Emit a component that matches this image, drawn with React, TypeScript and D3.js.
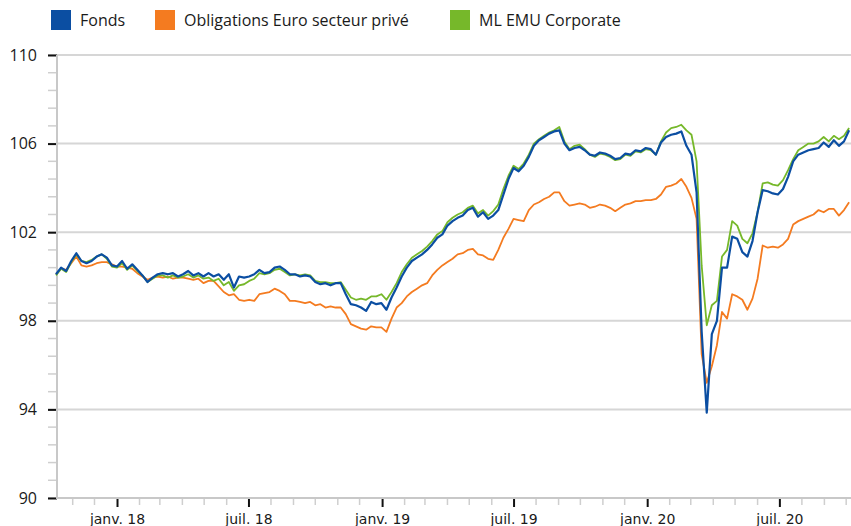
import React, { useEffect, useRef } from "react";
import * as d3 from "d3";

// weekly closing values, first week = 9 Oct 2017
const startDate = new Date(2017, 9, 9);

const fonds = [
  100.1, 100.4, 100.25, 100.7, 101.05, 100.7, 100.6, 100.7, 100.9, 101.0,
  100.85, 100.5, 100.45, 100.7, 100.35, 100.55, 100.3, 100.05, 99.75, 99.95,
  100.1, 100.15, 100.1, 100.15, 100.0, 100.1, 100.25, 100.05, 100.15, 100.0,
  100.15, 100.0, 100.1, 99.85, 100.1, 99.5, 100.0, 99.95, 100.0, 100.1,
  100.3, 100.15, 100.2, 100.4, 100.45, 100.3, 100.1, 100.1, 100.0, 100.05,
  100.0, 99.75, 99.65, 99.7, 99.6, 99.7, 99.7, 99.2, 98.75, 98.7,
  98.6, 98.45, 98.85, 98.75, 98.8, 98.5, 99.05, 99.5, 100.0, 100.4,
  100.7, 100.85, 101.0, 101.2, 101.45, 101.75, 101.9, 102.3, 102.5, 102.65,
  102.75, 103.0, 103.1, 102.7, 102.9, 102.6, 102.75, 103.0, 103.7, 104.4,
  104.9, 104.75, 105.0, 105.4, 105.9, 106.15, 106.3, 106.45, 106.55, 106.6,
  106.0, 105.7, 105.8, 105.85, 105.7, 105.5, 105.45, 105.6, 105.55, 105.45,
  105.3, 105.35, 105.55, 105.5, 105.7, 105.65, 105.8, 105.75, 105.5, 106.05,
  106.3, 106.4, 106.45, 106.55, 105.9, 105.5, 103.8, 97.5, 93.85, 97.4,
  98.0, 100.4, 100.4, 101.8, 101.7, 101.1, 100.9, 101.6, 102.9, 103.9,
  103.85, 103.75, 103.7, 103.95, 104.5, 105.2, 105.5, 105.6, 105.7, 105.75,
  105.8, 106.05, 105.85, 106.15, 105.9, 106.1, 106.6,
];

const obligations = [
  100.1, 100.35, 100.3, 100.6, 100.9, 100.5, 100.45, 100.5, 100.6, 100.65,
  100.65, 100.55, 100.45, 100.45, 100.4, 100.35, 100.15, 100.0, 99.85, 99.95,
  100.0, 99.95, 100.0, 99.9, 99.95, 99.95, 99.9, 99.85, 99.9, 99.7,
  99.8, 99.8, 99.55, 99.3, 99.15, 99.2, 98.95, 98.9, 98.95, 98.9,
  99.2, 99.25, 99.3, 99.45, 99.35, 99.2, 98.9, 98.9, 98.85, 98.8,
  98.85, 98.7, 98.75, 98.6, 98.65, 98.6, 98.6, 98.3, 97.85, 97.75,
  97.65, 97.6, 97.75, 97.7, 97.7, 97.5, 98.1, 98.6, 98.8, 99.1,
  99.3, 99.45, 99.6, 99.7, 100.05, 100.3, 100.5, 100.65, 100.8, 101.0,
  101.05, 101.2, 101.25, 101.0, 100.95, 100.8, 100.75, 101.2, 101.75, 102.15,
  102.6, 102.55, 102.5, 103.0, 103.25, 103.35, 103.5, 103.6, 103.8, 103.8,
  103.4, 103.2, 103.25, 103.3, 103.25, 103.1, 103.15, 103.25, 103.2, 103.1,
  102.95, 103.1, 103.25, 103.3, 103.4, 103.4, 103.45, 103.45, 103.5, 103.7,
  104.05, 104.1, 104.2, 104.4, 104.05, 103.55, 102.6, 96.5, 95.2, 95.95,
  96.9, 98.4, 98.1, 99.2, 99.1, 98.95, 98.5, 99.0, 99.9, 101.4,
  101.3, 101.35, 101.3, 101.45, 101.7, 102.35, 102.5, 102.6, 102.7, 102.8,
  103.0, 102.9, 103.05, 103.05, 102.75, 103.0, 103.35,
];

const mlEmu = [
  100.05, 100.35, 100.2, 100.65, 101.0, 100.7, 100.65, 100.75, 100.9, 101.0,
  100.8, 100.45, 100.4, 100.6, 100.3, 100.5, 100.25, 100.05, 99.75, 99.9,
  100.05, 100.05, 99.95, 100.05, 99.95, 100.0, 100.1, 99.95, 100.05, 99.9,
  99.95, 99.8, 99.9, 99.6, 99.75, 99.35, 99.6, 99.65, 99.8, 99.9,
  100.15, 100.1, 100.15, 100.3, 100.35, 100.2, 100.05, 100.1, 100.05, 100.1,
  100.05, 99.8, 99.75, 99.75, 99.7, 99.7, 99.75, 99.4, 99.05, 98.95,
  99.0, 98.95, 99.1, 99.1, 99.2, 98.95, 99.3, 99.7, 100.2, 100.55,
  100.85, 101.0, 101.15, 101.35, 101.6, 101.9, 102.05, 102.45, 102.65, 102.8,
  102.9, 103.1, 103.2, 102.85, 103.0, 102.75, 102.95, 103.25, 103.95, 104.55,
  105.0, 104.85, 105.1, 105.5, 106.0, 106.2, 106.35, 106.5, 106.6, 106.75,
  106.1, 105.75, 105.9, 105.95, 105.75, 105.5, 105.4, 105.55, 105.5, 105.4,
  105.25, 105.3, 105.5, 105.45, 105.65, 105.6, 105.75, 105.7, 105.5, 106.1,
  106.5, 106.7, 106.75, 106.85, 106.6, 106.4, 105.2, 100.5, 97.8, 98.7,
  98.9, 100.9, 101.2, 102.5, 102.3, 101.7, 101.5, 101.95, 102.9, 104.2,
  104.25, 104.15, 104.1, 104.35, 104.8, 105.3, 105.7, 105.85, 106.0, 106.0,
  106.1, 106.3, 106.1, 106.35, 106.2, 106.35, 106.7,
];

const seriesNames = ["Fonds", "Obligations Euro secteur privé", "ML EMU Corporate"];
const seriesColors = ["#0b4ea2", "#f47b20", "#76b82a"];
const yTickValues = [90, 94, 98, 102, 106, 110];
const monthNames = ["janv.", "févr.", "mars", "avr.", "mai", "juin", "juil.", "août", "sept.", "oct.", "nov.", "déc."];

export default function App() {
  const svgRef = useRef<SVGSVGElement>(null);
  const width = 851;
  const height = 526;

  useEffect(() => {
    const svg = d3.select(svgRef.current);
    svg.selectAll("*").remove();

    const left = 57;
    const right = 851;
    const top = 55;
    const bottom = 498;

    const dates = fonds.map((_, i) => d3.timeDay.offset(startDate, i * 7));

    const x = d3
      .scaleTime()
      .domain([new Date(2017, 9, 9), new Date(2020, 9, 9)])
      .range([56, 852]);
    const y = d3.scaleLinear().domain([90, 110]).range([bottom, top]);

    // grid
    svg
      .append("g")
      .selectAll("line")
      .data(yTickValues.filter((v) => v > 90))
      .join("line")
      .attr("x1", left)
      .attr("x2", right)
      .attr("y1", (d) => y(d))
      .attr("y2", (d) => y(d))
      .attr("stroke", "#d6d6d6")
      .attr("stroke-width", 2);

    // minor y ticks
    const minorY = d3.range(0, 26).map((i) => 90 + i * 0.8);
    svg
      .append("g")
      .selectAll("line")
      .data(minorY)
      .join("line")
      .attr("x1", 48)
      .attr("x2", left)
      .attr("y1", (d) => y(d))
      .attr("y2", (d) => y(d))
      .attr("stroke", "#cfcfcf")
      .attr("stroke-width", 1.5);

    // minor x ticks (monthly)
    const months = d3.timeMonth.range(new Date(2017, 10, 1), new Date(2020, 9, 9));
    svg
      .append("g")
      .selectAll("line")
      .data(months.filter((m) => m.getMonth() % 6 !== 0))
      .join("line")
      .attr("x1", (d) => x(d))
      .attr("x2", (d) => x(d))
      .attr("y1", bottom)
      .attr("y2", bottom + 7)
      .attr("stroke", "#cfcfcf")
      .attr("stroke-width", 1.5);

    // y axis
    const yAxis = d3
      .axisLeft(y)
      .tickValues(yTickValues)
      .tickSize(9)
      .tickPadding(11)
      .tickFormat((d) => String(d));
    const yAxisG = svg.append("g").attr("transform", `translate(${left},0)`).call(yAxis);
    yAxisG.select(".domain").remove();
    yAxisG.selectAll(".tick line").attr("stroke", "#111").attr("stroke-width", 2);
    yAxisG
      .selectAll(".tick text")
      .attr("fill", "#1a1a1a")
      .style("font-family", "'Open Sans', sans-serif")
      .style("font-size", "16px");

    // x axis
    const majorDates = months.filter((m) => m.getMonth() % 6 === 0);
    const xAxis = d3
      .axisBottom(x)
      .tickValues(majorDates)
      .tickSize(9)
      .tickPadding(7)
      .tickFormat((d) => {
        const dt = d as Date;
        return `${monthNames[dt.getMonth()]} ${String(dt.getFullYear()).slice(2)}`;
      });
    const xAxisG = svg.append("g").attr("transform", `translate(0,${bottom})`).call(xAxis);
    xAxisG.select(".domain").remove();
    xAxisG.selectAll(".tick line").attr("stroke", "#111").attr("stroke-width", 2);
    xAxisG
      .selectAll(".tick text")
      .attr("fill", "#1a1a1a")
      .style("font-family", "'DejaVu Sans', sans-serif")
      .style("font-size", "14px");

    // axis lines
    svg
      .append("line")
      .attr("x1", left)
      .attr("x2", left)
      .attr("y1", top)
      .attr("y2", bottom + 1)
      .attr("stroke", "#c8c8c8")
      .attr("stroke-width", 2);
    svg
      .append("line")
      .attr("x1", left)
      .attr("x2", right)
      .attr("y1", bottom)
      .attr("y2", bottom)
      .attr("stroke", "#c8c8c8")
      .attr("stroke-width", 2);

    // lines
    const line = d3
      .line<number>()
      .x((_, i) => x(dates[i]))
      .y((d) => y(d));

    const drawOrder = [
      { values: obligations, color: seriesColors[1], w: 1.8 },
      { values: mlEmu, color: seriesColors[2], w: 1.8 },
      { values: fonds, color: seriesColors[0], w: 2.2 },
    ];
    drawOrder.forEach((s) => {
      svg
        .append("path")
        .attr("d", line(s.values))
        .attr("fill", "none")
        .attr("stroke", s.color)
        .attr("stroke-width", s.w)
        .attr("stroke-linejoin", "round");
    });

    // legend
    const legendX = [51, 155, 450];
    const legend = svg
      .append("g")
      .selectAll("g")
      .data(seriesNames)
      .join("g")
      .attr("transform", (_, i) => `translate(${legendX[i]},10)`);
    legend
      .append("rect")
      .attr("width", 20)
      .attr("height", 20)
      .attr("fill", (_, i) => seriesColors[i]);
    legend
      .append("text")
      .attr("x", 29)
      .attr("y", 16)
      .attr("fill", "#1a1a1a")
      .style("font-family", "'Open Sans', sans-serif")
      .style("font-size", "16px")
      .text((d) => d);
  }, []);

  return (
    <div style={{ position: "fixed", left: 0, top: 0, background: "#fff" }}>
      <svg ref={svgRef} width={width} height={height}></svg>
    </div>
  );
}
